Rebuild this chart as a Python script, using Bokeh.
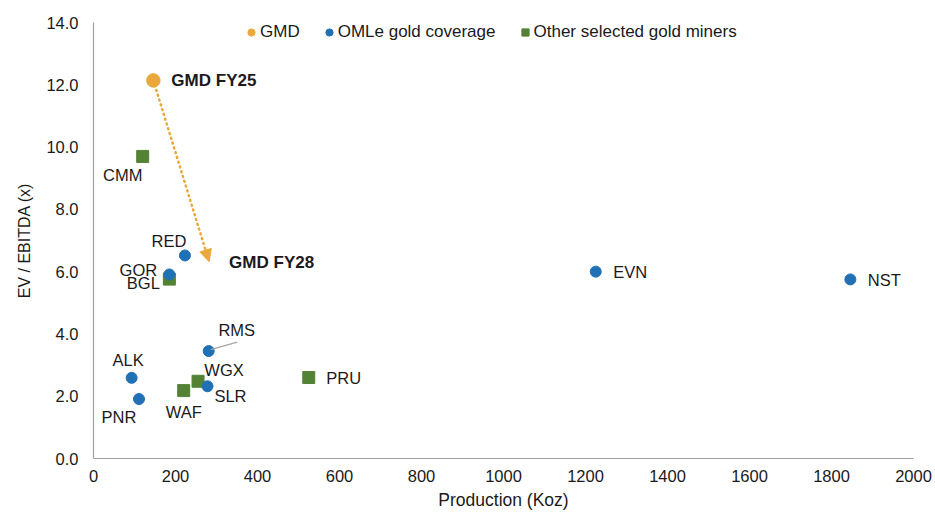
from bokeh.plotting import figure
from bokeh.models import (Range1d, Legend, LegendItem, Arrow, NormalHead,
                          ColumnDataSource, FixedTicker)
from bokeh.core.properties import value
from bokeh.embed import file_html
from bokeh.resources import INLINE

# ---------------- data ----------------
gmd_names = ["GMD FY25", "GMD FY28"]
gmd_prod = [146, 282]
gmd_ev = [12.14, 6.32]

oml_names = ["RED", "GOR", "EVN", "NST", "RMS", "ALK", "PNR", "SLR"]
oml_prod = [223, 185, 1225, 1846, 281, 93, 111, 278]
oml_ev = [6.52, 5.91, 6.0, 5.75, 3.45, 2.59, 1.91, 2.32]

other_names = ["CMM", "BGL", "WAF", "WGX", "PRU"]
other_prod = [120, 185, 220, 255, 525]
other_ev = [9.70, 5.76, 2.18, 2.48, 2.60]

x_ticks = [0, 200, 400, 600, 800, 1000, 1200, 1400, 1600, 1800, 2000]
y_ticks = [0, 2, 4, 6, 8, 10, 12, 14]
y_tick_labels = ["0.0", "2.0", "4.0", "6.0", "8.0", "10.0", "12.0", "14.0"]

legend_labels = ["GMD", "OMLe gold coverage", "Other selected gold miners"]
x_title = "Production (Koz)"
y_title = "EV / EBITDA (x)"

# ---------------- styles ----------------
ORANGE = "#EAA83A"
BLUE = "#1F70B5"
GREEN = "#548235"
FONT = value("Liberation Sans")
AXIS_GREY = "#A0A0A0"
TXT = "#1a1a1a"

# label placement (screen px offsets from the marker, alignment)
label_pos = {
    "GMD FY25": (18, 0, "left"),
    "GMD FY28": (20, 0.5, "left"),
    "RED": (-16, -14, "center"),
    "GOR": (-31, -4.5, "center"),
    "EVN": (17.5, 0, "left"),
    "NST": (17.5, 0.5, "left"),
    "RMS": (28, -21, "center"),
    "ALK": (-3.5, -18, "center"),
    "PNR": (-20, 18, "center"),
    "SLR": (23, 9.5, "center"),
    "CMM": (-20, 19, "center"),
    "BGL": (-26, 4, "center"),
    "WAF": (0, 21, "center"),
    "WGX": (26, -11, "center"),
    "PRU": (17.5, 0.5, "left"),
}

W, H = 932, 513
ML, MT = 93, 22
MR = W - 913
MB = H - 458

p = figure(width=W, height=H, output_backend="svg", toolbar_location=None,
           x_range=Range1d(0, 2000), y_range=Range1d(0, 14),
           min_border_left=ML, min_border_right=MR,
           min_border_top=MT, min_border_bottom=MB)
p.outline_line_color = None
p.xgrid.visible = False
p.ygrid.visible = False
p.background_fill_color = "white"
p.border_fill_color = "white"

for ax in (p.xaxis[0], p.yaxis[0]):
    ax.axis_line_color = AXIS_GREY
    ax.axis_line_width = 1.2
    ax.major_tick_in = 0
    ax.major_tick_out = 0
    ax.minor_tick_in = 0
    ax.minor_tick_out = 0
    ax.major_label_text_font = "Liberation Sans"
    ax.major_label_text_font_size = "16.5px"
    ax.major_label_text_color = TXT
    ax.axis_label_text_font = "Liberation Sans"
    ax.axis_label_text_font_style = "normal"
    ax.axis_label_text_color = TXT

p.xaxis.ticker = FixedTicker(ticks=x_ticks)
p.xaxis.major_label_standoff = 11
p.xaxis.axis_label = x_title
p.xaxis.axis_label_text_font_size = "17.5px"
p.xaxis.axis_label_standoff = 5

p.yaxis.ticker = FixedTicker(ticks=y_ticks)
p.yaxis.major_label_overrides = {t: l for t, l in zip(y_ticks, y_tick_labels)}
p.yaxis.major_label_standoff = 15
p.yaxis.axis_label = y_title
p.yaxis.axis_label_text_font_size = "16px"
p.yaxis.axis_label_standoff = 10

# ---------------- markers ----------------
src_other = ColumnDataSource(dict(x=other_prod, y=other_ev, name=other_names))
src_oml = ColumnDataSource(dict(x=oml_prod, y=oml_ev, name=oml_names))
src_gmd = ColumnDataSource(dict(x=gmd_prod[:1], y=gmd_ev[:1], name=gmd_names[:1]))

r_other = p.scatter("x", "y", source=src_other, marker="square", size=12,
                    fill_color=GREEN, line_color=GREEN)
r_oml = p.scatter("x", "y", source=src_oml, marker="circle", size=11,
                  fill_color=BLUE, line_color=BLUE)
r_gmd = p.scatter("x", "y", source=src_gmd, marker="circle", size=13.5,
                  fill_color=ORANGE, line_color=ORANGE)

# dotted arrow FY25 -> FY28
p.add_layout(Arrow(x_start=gmd_prod[0], y_start=gmd_ev[0],
                   x_end=gmd_prod[1], y_end=gmd_ev[1],
                   line_color=ORANGE, line_width=2.5, line_dash="1 4",
                   line_cap="round",
                   end=NormalHead(size=12, fill_color=ORANGE, line_color=ORANGE)))

# RMS leader line (from marker towards its label)
kx = 2000 / (W - ML - MR)
ky = 14 / (H - MT - MB)
i_rms = oml_names.index("RMS")
rx, ry = oml_prod[i_rms], oml_ev[i_rms]
p.segment(x0=[rx + 2 * kx], y0=[ry + 1.4 * ky], x1=[rx + 28.5 * kx], y1=[ry + 9 * ky],
          line_color="#A6A6A6", line_width=1.2)

# ---------------- labels ----------------
def add_labels(names, xs, ys, bold=False, size="16.5px"):
    for align in ("left", "center"):
        sel = [i for i, n in enumerate(names) if label_pos[n][2] == align]
        if not sel:
            continue
        src = ColumnDataSource(dict(
            x=[xs[i] for i in sel], y=[ys[i] for i in sel],
            t=[names[i] for i in sel],
            dx=[label_pos[names[i]][0] for i in sel],
            dy=[label_pos[names[i]][1] for i in sel]))
        p.text("x", "y", text="t", source=src, x_offset="dx", y_offset="dy",
               text_align=align, text_baseline="middle", text_font=FONT,
               text_font_size=size, text_color=TXT,
               text_font_style="bold" if bold else "normal")

add_labels(other_names, other_prod, other_ev)
add_labels(oml_names, oml_prod, oml_ev)
add_labels(gmd_names, gmd_prod, gmd_ev, bold=True, size="17px")

# ---------------- legend ----------------
legend = Legend(items=[LegendItem(label=legend_labels[0], renderers=[r_gmd]),
                       LegendItem(label=legend_labels[1], renderers=[r_oml]),
                       LegendItem(label=legend_labels[2], renderers=[r_other])],
                orientation="horizontal", location=(149, 416),
                glyph_width=18, glyph_height=18, label_standoff=0, spacing=20,
                padding=0, margin=0, border_line_color=None,
                background_fill_alpha=0, label_text_font="Liberation Sans",
                label_text_font_size="17px", label_text_color=TXT,
                label_height=20)
p.add_layout(legend, "center")

open("out.html", "w").write(file_html(p, INLINE))
